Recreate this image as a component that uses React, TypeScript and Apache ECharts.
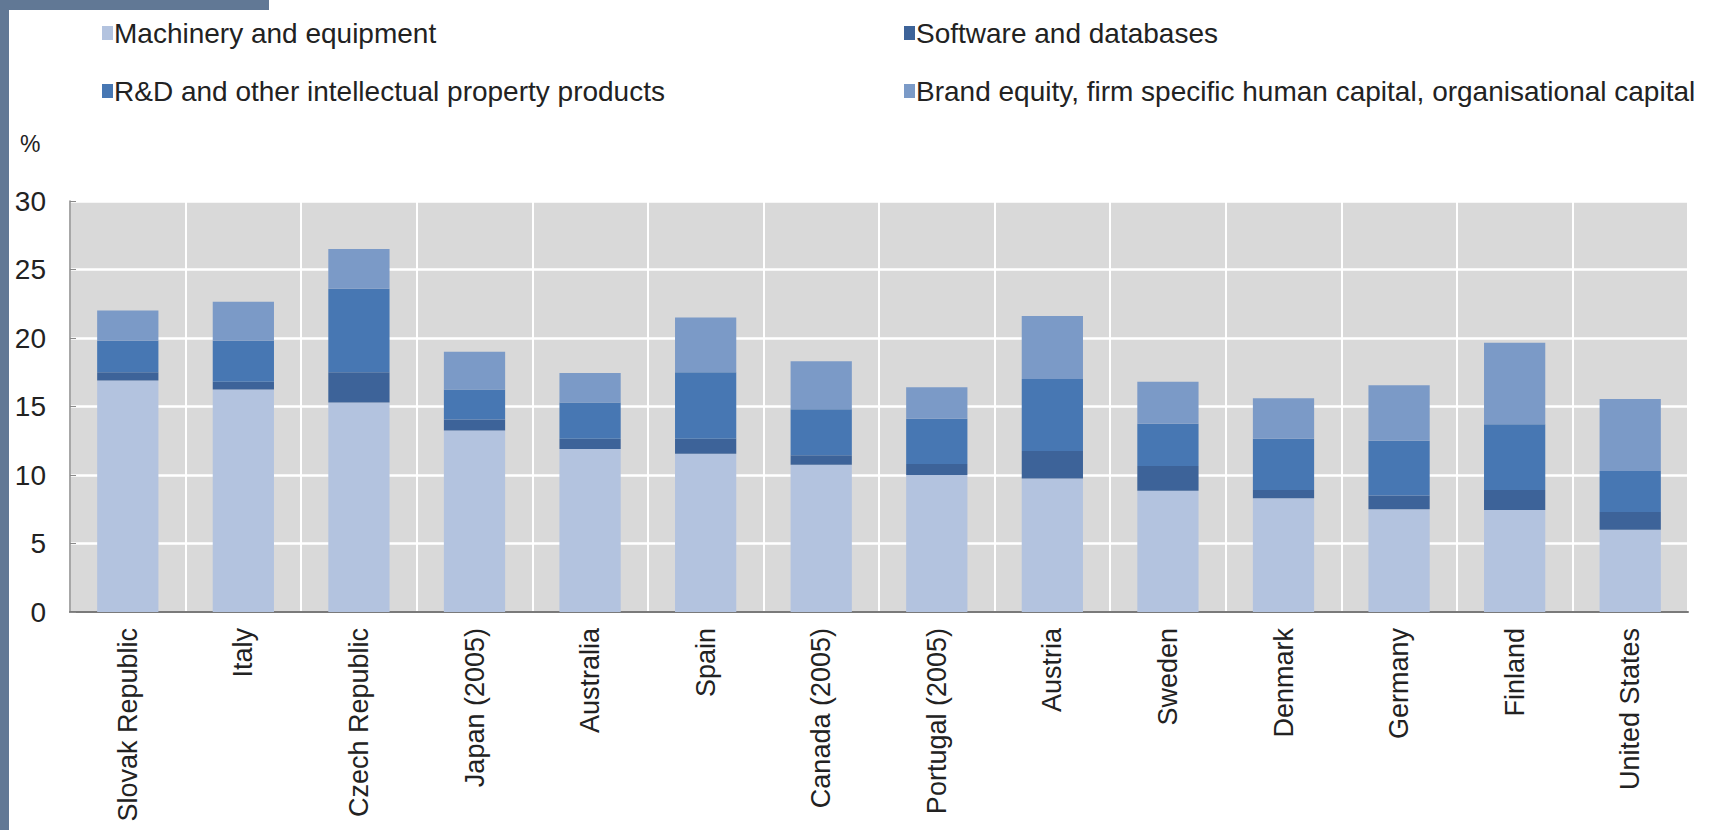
import React, { useEffect, useRef } from "react";
import * as echarts from "echarts";

const countries = [
  "Slovak Republic",
  "Italy",
  "Czech Republic",
  "Japan (2005)",
  "Australia",
  "Spain",
  "Canada (2005)",
  "Portugal (2005)",
  "Austria",
  "Sweden",
  "Denmark",
  "Germany",
  "Finland",
  "United States",
];

const machinery = [16.9, 16.25, 15.3, 13.25, 11.9, 11.55, 10.75, 10.0, 9.75, 8.85, 8.3, 7.5, 7.45, 6.0];
const software = [0.6, 0.55, 2.2, 0.8, 0.75, 1.1, 0.7, 0.8, 2.0, 1.8, 0.6, 1.0, 1.45, 1.3];
const rnd = [2.3, 3.0, 6.1, 2.2, 2.65, 4.85, 3.35, 3.3, 5.25, 3.1, 3.75, 4.0, 4.8, 3.0];
const brand = [2.2, 2.85, 2.9, 2.75, 2.15, 4.0, 3.5, 2.3, 4.6, 3.05, 2.95, 4.05, 5.95, 5.25];

const yTicks = [0, 5, 10, 15, 20, 25, 30];

const names = {
  machinery: "Machinery and equipment",
  software: "Software and databases",
  rnd: "R&D and other intellectual property products",
  brand: "Brand equity, firm specific human capital, organisational capital",
};

const colors = {
  machinery: "#b3c3df",
  software: "#3d6399",
  rnd: "#4777b3",
  brand: "#7b9ac7",
};

export default function App() {
  const ref = useRef<HTMLDivElement>(null);

  useEffect(() => {
    document.body.style.margin = "0";
    if (!ref.current) return;
    const chart = echarts.init(ref.current, null, { renderer: "svg" });
    const font = "'Liberation Sans', Arial, sans-serif";
    const mkSeries = (key: keyof typeof names, data: number[]) => ({
      name: names[key],
      type: "bar",
      stack: "total",
      data,
      barCategoryGap: "47%",
      itemStyle: { color: colors[key] },
    });
    const legendBase = {
      orient: "vertical",
      top: 14,
      itemGap: 30,
      itemWidth: 11,
      itemHeight: 14,
      icon: "rect",
      textStyle: { fontSize: 28, color: "#222222", fontFamily: font, padding: [0, 0, 0, -4] },
    };
    chart.setOption({
      animation: false,
      backgroundColor: "#ffffff",
      textStyle: { fontFamily: font },
      graphic: [
        { type: "rect", left: 0, top: 0, shape: { width: 269, height: 10 }, style: { fill: "#617895" }, z: 10 },
        { type: "rect", left: 0, top: 0, shape: { width: 9, height: 830 }, style: { fill: "#617895" }, z: 10 },
        {
          type: "text",
          left: 20,
          top: 132,
          style: { text: "%", font: `23px ${font}`, fill: "#222222" },
        },
      ],
      legend: [
        { ...legendBase, data: [names.machinery, names.rnd], left: 97 },
        { ...legendBase, data: [names.software, names.brand], left: 899 },
      ],
      grid: {
        left: 70,
        right: 43,
        top: 201,
        bottom: 218,
        show: true,
        backgroundColor: "#d9d9d9",
        borderWidth: 0,
      },
      xAxis: {
        type: "category",
        data: countries,
        axisLine: { show: true, lineStyle: { color: "#7a7a7a", width: 2 } },
        axisTick: { show: false },
        splitLine: { show: true, lineStyle: { color: "#ffffff", width: 2 } },
        axisLabel: {
          rotate: 90,
          interval: 0,
          margin: 16,
          fontSize: 27,
          color: "#222222",
          fontFamily: font,
        },
      },
      yAxis: {
        type: "value",
        min: yTicks[0],
        max: yTicks[yTicks.length - 1],
        interval: 5,
        axisLine: { show: true, lineStyle: { color: "#8a8a8a", width: 1.5 } },
        axisTick: { show: true, inside: true, length: 6, lineStyle: { color: "#8a8a8a" } },
        splitLine: { show: true, lineStyle: { color: "#ffffff", width: 2.5 } },
        axisLabel: { fontSize: 28, color: "#222222", margin: 24, fontFamily: font },
      },
      series: [
        mkSeries("machinery", machinery),
        mkSeries("software", software),
        mkSeries("rnd", rnd),
        mkSeries("brand", brand),
      ],
    });
    return () => chart.dispose();
  }, []);

  return <div ref={ref} style={{ width: 1731, height: 830 }} />;
}
